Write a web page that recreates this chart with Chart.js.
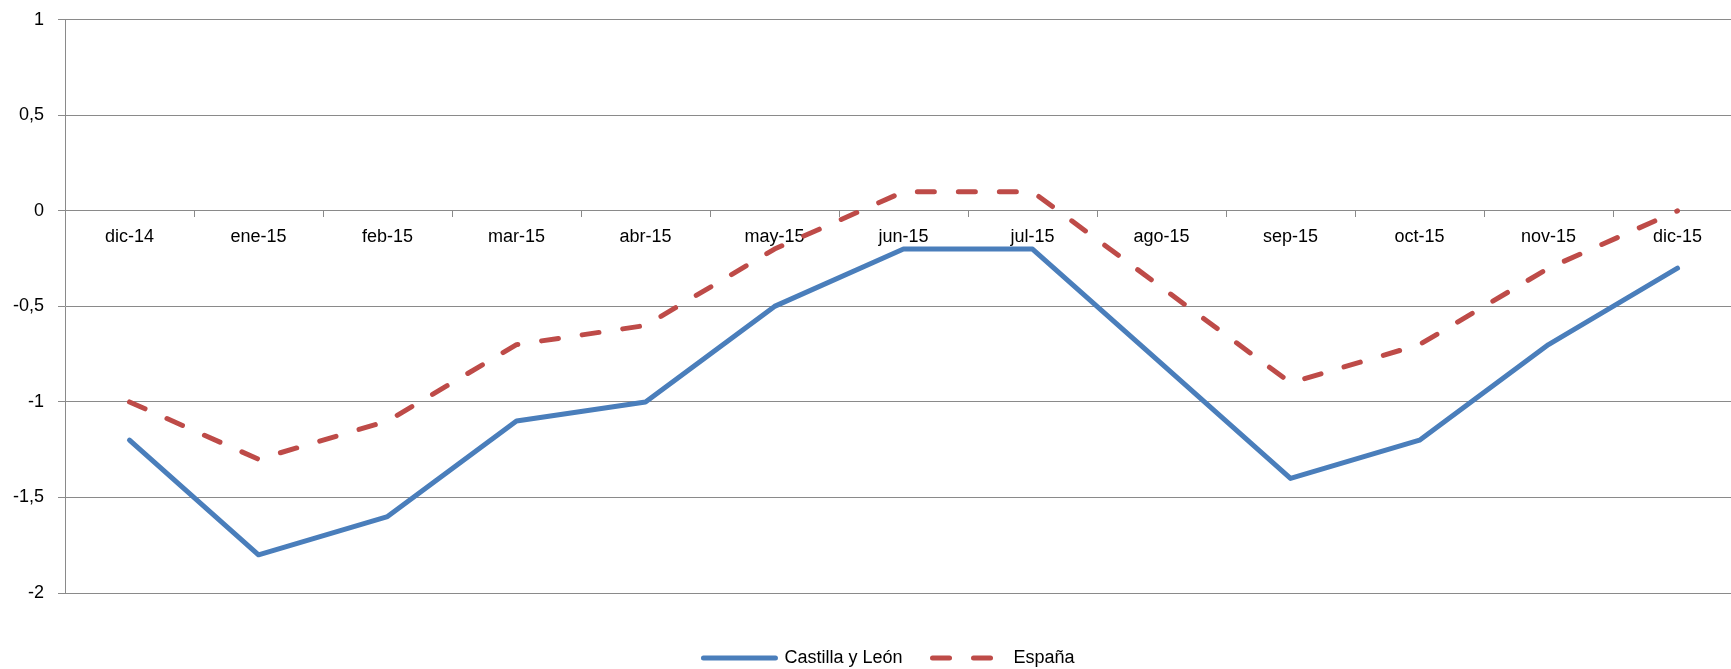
<!DOCTYPE html>
<html>
<head>
<meta charset="utf-8">
<script src="https://cdn.jsdelivr.net/npm/chart.js@4.4.1/dist/chart.umd.min.js"></script>
<style>
  html, body { margin: 0; padding: 0; background: #fff; overflow: hidden; }
  #wrap { width: 1815px; height: 682px; margin-top: -5px; }
</style>
</head>
<body>
<div id="wrap"><canvas id="chart"></canvas></div>
<script>
const categories = ['dic-14', 'ene-15', 'feb-15', 'mar-15', 'abr-15', 'may-15', 'jun-15',
  'jul-15', 'ago-15', 'sep-15', 'oct-15', 'nov-15', 'dic-15'];
const castillaLeon = [-1.2, -1.8, -1.6, -1.1, -1.0, -0.5, -0.2, -0.2, -0.8, -1.4, -1.2, -0.7, -0.3];
const espana = [-1.0, -1.3, -1.1, -0.7, -0.6, -0.2, 0.1, 0.1, -0.4, -0.9, -0.7, -0.3, 0.0];
const yTicks = [1, 0.5, 0, -0.5, -1, -1.5, -2];

const gridColor = '#8a8a8a';
const font = { family: "'Liberation Sans', Arial, sans-serif", size: 18 };

// empty axis used only to reserve space (plot runs past the right edge like the original)
const spacer = (pos, size) => ({
  type: 'linear',
  axis: pos === 'bottom' ? 'x' : 'y',
  position: pos,
  grid: { display: false },
  border: { display: false },
  ticks: { display: false },
  afterFit: s => { if (pos === 'bottom') s.height = size; else s.width = size; }
});

new Chart(document.getElementById('chart'), {
  type: 'line',
  data: {
    labels: categories,
    datasets: [{
      label: 'Castilla y León',
      data: castillaLeon,
      xAxisID: 'x',
      yAxisID: 'y',
      borderColor: '#4a7ebb',
      backgroundColor: '#4a7ebb',
      borderWidth: 5,
      borderJoinStyle: 'round',
      borderCapStyle: 'round',
      pointRadius: 0,
      tension: 0
    }, {
      label: 'España',
      data: espana,
      xAxisID: 'x',
      yAxisID: 'y',
      borderColor: '#be4b48',
      backgroundColor: '#be4b48',
      borderWidth: 5,
      borderDash: [17, 24],
      borderJoinStyle: 'round',
      borderCapStyle: 'round',
      pointRadius: 0,
      tension: 0
    }]
  },
  options: {
    responsive: true,
    maintainAspectRatio: false,
    animation: false,
    layout: { padding: { left: 0, right: 37, top: 0, bottom: 0 } },
    scales: {
      y: {
        min: -2,
        max: 1,
        afterBuildTicks: s => { s.ticks = yTicks.map(v => ({ value: v })); },
        afterFit: s => { s.width = 65; },
        grid: { color: gridColor, tickLength: 7 },
        border: { color: gridColor, width: 1 },
        ticks: {
          color: '#000',
          font: font,
          padding: 14,
          callback: v => String(v).replace('.', ',')
        }
      },
      x: {
        type: 'category',
        position: { y: 0 },
        offset: true,
        grid: { offset: true, drawOnChartArea: false, color: gridColor, tickLength: 6 },
        border: { color: gridColor, width: 1 },
        ticks: { color: '#000', font: font, padding: 9, autoSkip: false, maxRotation: 0 }
      },
      xPad: spacer('bottom', 26),
      yPad: spacer('right', 36)
    },
    plugins: {
      legend: {
        position: 'bottom',
        labels: {
          color: '#000',
          font: font,
          padding: 30,
          usePointStyle: true,
          pointStyle: 'line',
          pointStyleWidth: 72,
          generateLabels: chart => {
            const items = Chart.defaults.plugins.legend.labels.generateLabels(chart);
            items.forEach(item => {
              const ds = chart.data.datasets[item.datasetIndex];
              item.lineDash = ds.borderDash || [];
              item.lineWidth = ds.borderWidth;
              item.lineCap = 'round';
              item.strokeStyle = ds.borderColor;
            });
            return items;
          }
        }
      },
      tooltip: { enabled: false }
    }
  }
});
</script>
</body>
</html>
